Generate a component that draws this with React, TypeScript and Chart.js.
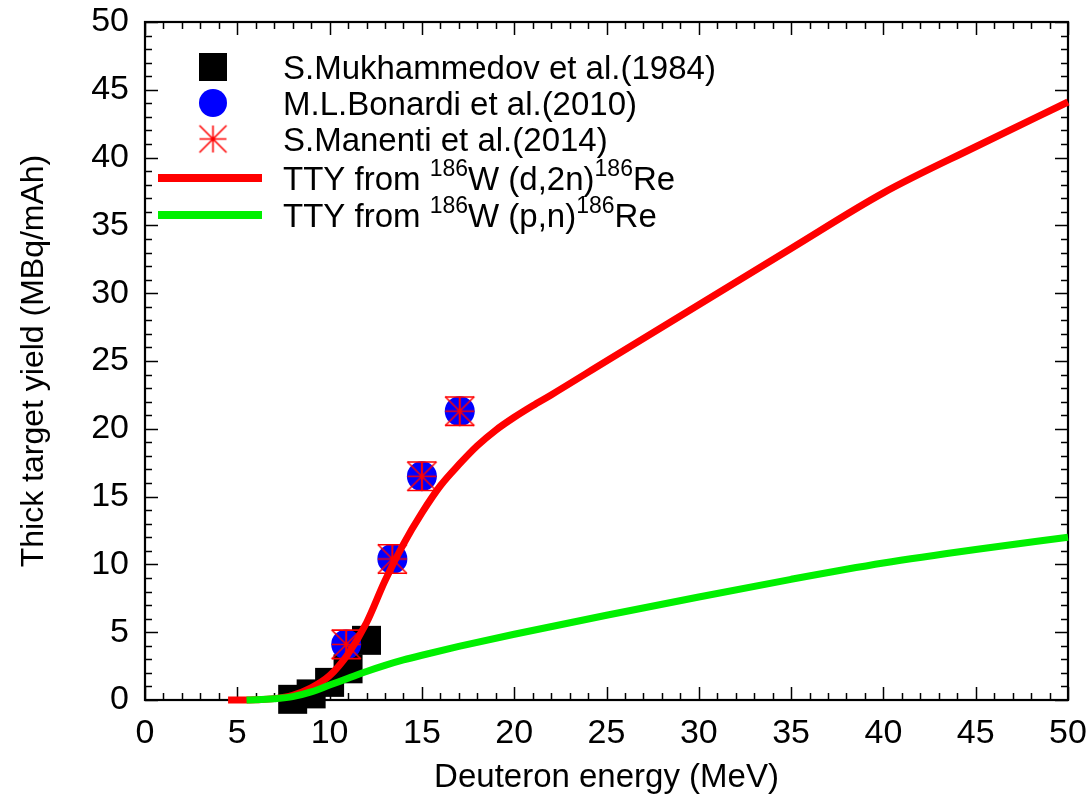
import { useEffect, useRef } from 'react';
import { Chart, registerables } from 'chart.js';

Chart.register(...registerables);

// ---- data ----
const mukhammedovX = [8.0, 9.0, 10.0, 11.0, 12.0];
const mukhammedovY = [0.05, 0.45, 1.3, 2.3, 4.4];

const bonardiX = [10.9, 13.4, 15.0, 17.05];
const bonardiY = [4.1, 10.4, 16.5, 21.3];

const manentiX = [10.9, 13.4, 15.0, 17.05];
const manentiY = [4.1, 10.4, 16.5, 21.3];
const manentiErr = [1.05, 1.05, 1.05, 1.05];

const ttyDX = [4.5, 5, 6, 7, 8, 9, 10, 11, 12, 13, 14, 15, 16, 17, 18, 19, 20, 21, 22, 25, 30, 35, 40, 45, 50];
const ttyDY = [0, 0, 0.02, 0.1, 0.35, 0.9, 1.8, 3.4, 5.7, 8.8, 11.5, 13.8, 15.8, 17.35, 18.75, 19.9, 20.85, 21.7, 22.5, 25.0, 29.15, 33.3, 37.4, 40.8, 44.1];

const ttyPX = [5.5, 6, 7, 8, 9, 10, 11, 12, 13, 14, 15, 17, 20, 25, 30, 35, 40, 45, 50];
const ttyPY = [0, 0.02, 0.1, 0.25, 0.6, 1.1, 1.6, 2.1, 2.55, 2.95, 3.3, 3.95, 4.85, 6.25, 7.6, 8.9, 10.1, 11.1, 12.0];

const xRange = [0, 50];
const yRange = [0, 50];
const majorStep = 5;
const minorStep = 1;

const pointLabels = ['S.Mukhammedov et al.(1984)', 'M.L.Bonardi et al.(2010)', 'S.Manenti et al.(2014)'];
const lineLabels = [
  [{ t: 'TTY from ' }, { t: '186', sup: true }, { t: 'W (d,2n)' }, { t: '186', sup: true }, { t: 'Re' }],
  [{ t: 'TTY from ' }, { t: '186', sup: true }, { t: 'W (p,n)' }, { t: '186', sup: true }, { t: 'Re' }],
];

const xTitle = 'Deuteron energy (MeV)';
const yTitle = 'Thick target yield (MBq/mAh)';

const FONT = '"Liberation Sans", Arial, Helvetica, sans-serif';
const RED = '#ff0000';
const GREEN = '#00f000';
const BLUE = '#0000ff';

const zip = (xs: number[], ys: number[]) => xs.map((x, i) => ({ x, y: ys[i] }));

function makeAsterisk(h: number) {
  const c = document.createElement('canvas');
  const s = Math.ceil(h * 2 + 4);
  c.width = s;
  c.height = s;
  const g = c.getContext('2d')!;
  const m = s / 2;
  g.strokeStyle = RED;
  g.lineWidth = 1.6;
  g.beginPath();
  g.moveTo(m - h, m); g.lineTo(m + h, m);
  g.moveTo(m, m - h); g.lineTo(m, m + h);
  g.moveTo(m - h, m - h); g.lineTo(m + h, m + h);
  g.moveTo(m - h, m + h); g.lineTo(m + h, m - h);
  g.stroke();
  return c;
}

export default function App() {
  const ref = useRef<HTMLCanvasElement | null>(null);

  useEffect(() => {
    if (!ref.current) return;
    const asterisk = makeAsterisk(14.5);
    const legendAsterisk = makeAsterisk(13.5);

    const framePlugin = {
      id: 'frame',
      beforeDatasetsDraw(chart: any) {
        const { ctx, chartArea } = chart;
        const { left, right, top, bottom } = chartArea;
        const xs = chart.scales.x;
        const ys = chart.scales.y;
        ctx.save();
        ctx.strokeStyle = '#000';
        ctx.lineWidth = 1.5;
        ctx.beginPath();
        for (let v = xRange[0]; v <= xRange[1] + 1e-9; v += minorStep) {
          const px = Math.round(xs.getPixelForValue(v)) + 0.5;
          const len = Math.abs(v % majorStep) < 1e-9 ? 13 : 7;
          ctx.moveTo(px, bottom); ctx.lineTo(px, bottom - len);
          ctx.moveTo(px, top); ctx.lineTo(px, top + len);
        }
        for (let v = yRange[0]; v <= yRange[1] + 1e-9; v += minorStep) {
          const py = Math.round(ys.getPixelForValue(v)) + 0.5;
          const len = Math.abs(v % majorStep) < 1e-9 ? 13 : 7;
          ctx.moveTo(left, py); ctx.lineTo(left + len, py);
          ctx.moveTo(right, py); ctx.lineTo(right - len, py);
        }
        ctx.stroke();
        ctx.lineWidth = 2.2;
        ctx.strokeRect(left, top, right - left, bottom - top);
        ctx.restore();
      },
    };

    const errorPlugin = {
      id: 'errbars',
      afterDatasetDraw(chart: any, args: any) {
        if (args.index !== 2) return;
        const { ctx } = chart;
        const xs = chart.scales.x;
        const ys = chart.scales.y;
        ctx.save();
        ctx.strokeStyle = RED;
        ctx.lineWidth = 1.6;
        ctx.beginPath();
        manentiX.forEach((x, i) => {
          const px = xs.getPixelForValue(x);
          const y1 = ys.getPixelForValue(manentiY[i] - manentiErr[i]);
          const y2 = ys.getPixelForValue(manentiY[i] + manentiErr[i]);
          ctx.moveTo(px, y1); ctx.lineTo(px, y2);
          ctx.moveTo(px - 14.5, y1); ctx.lineTo(px + 14.5, y1);
          ctx.moveTo(px - 14.5, y2); ctx.lineTo(px + 14.5, y2);
        });
        ctx.stroke();
        ctx.restore();
      },
    };

    const legendPlugin = {
      id: 'gnuLegend',
      afterDraw(chart: any) {
        const { ctx } = chart;
        const symX = 213;
        const textX = 283;
        const rows = [67, 103, 139, 178, 215];
        const mainFont = `33px ${FONT}`;
        const supFont = `23px ${FONT}`;
        ctx.save();
        // square
        ctx.fillStyle = '#000';
        ctx.fillRect(symX - 14, rows[0] - 14, 28, 28);
        // circle
        ctx.fillStyle = BLUE;
        ctx.beginPath();
        ctx.arc(symX, rows[1], 14, 0, Math.PI * 2);
        ctx.fill();
        // asterisk
        ctx.drawImage(legendAsterisk, symX - legendAsterisk.width / 2, rows[2] - legendAsterisk.height / 2);
        // lines
        ctx.lineWidth = 8;
        ctx.strokeStyle = RED;
        ctx.beginPath(); ctx.moveTo(158, rows[3]); ctx.lineTo(262, rows[3]); ctx.stroke();
        ctx.strokeStyle = GREEN;
        ctx.beginPath(); ctx.moveTo(158, rows[4]); ctx.lineTo(262, rows[4]); ctx.stroke();
        // texts
        ctx.fillStyle = '#000';
        ctx.textBaseline = 'alphabetic';
        ctx.textAlign = 'left';
        ctx.font = mainFont;
        pointLabels.forEach((t, i) => ctx.fillText(t, textX, rows[i] + 12));
        lineLabels.forEach((parts, i) => {
          let x = textX;
          const base = rows[3 + i] + 12;
          parts.forEach((p: any) => {
            ctx.font = p.sup ? supFont : mainFont;
            ctx.fillText(p.t, x, p.sup ? base - 14 : base);
            x += ctx.measureText(p.t).width;
          });
        });
        ctx.restore();
      },
    };

    const tickFont = { family: FONT, size: 34 };

    const chart = new Chart(ref.current, {
      type: 'scatter',
      data: {
        datasets: [
          {
            label: pointLabels[0],
            data: zip(mukhammedovX, mukhammedovY),
            pointStyle: 'rect',
            pointRadius: 20.5,
            pointHoverRadius: 20.5,
            backgroundColor: '#000',
            borderColor: '#000',
            borderWidth: 0,
            order: 5,
            clip: false,
          },
          {
            label: pointLabels[1],
            data: zip(bonardiX, bonardiY),
            pointStyle: 'circle',
            pointRadius: 15,
            pointHoverRadius: 15,
            backgroundColor: BLUE,
            borderColor: BLUE,
            borderWidth: 0,
            order: 4,
            clip: false,
          },
          {
            label: pointLabels[2],
            data: zip(manentiX, manentiY),
            pointStyle: asterisk as any,
            pointRadius: 15,
            pointHoverRadius: 15,
            backgroundColor: RED,
            borderColor: RED,
            order: 3,
            clip: false,
          },
          {
            label: 'TTY d,2n',
            data: zip(ttyDX, ttyDY),
            showLine: true,
            pointRadius: 0,
            borderColor: RED,
            backgroundColor: RED,
            borderWidth: 7,
            cubicInterpolationMode: 'monotone',
            order: 2,
            clip: false,
          },
          {
            label: 'TTY p,n',
            data: zip(ttyPX, ttyPY),
            showLine: true,
            pointRadius: 0,
            borderColor: GREEN,
            backgroundColor: GREEN,
            borderWidth: 7,
            cubicInterpolationMode: 'monotone',
            order: 1,
            clip: false,
          },
        ] as any,
      },
      options: {
        animation: false,
        responsive: false,
        events: [],
        layout: { padding: { top: 22, right: 23, left: 0, bottom: 0 } },
        plugins: {
          legend: { display: false },
          tooltip: { enabled: false },
        },
        scales: {
          x: {
            type: 'linear',
            min: xRange[0],
            max: xRange[1],
            grid: { display: false, drawTicks: false },
            border: { display: false },
            ticks: {
              stepSize: majorStep,
              font: tickFont,
              color: '#000',
              padding: 13,
              maxRotation: 0,
              autoSkip: false,
            },
            title: {
              display: true,
              text: xTitle,
              font: { family: FONT, size: 33 },
              color: '#000',
              padding: { top: 0, bottom: 2 },
            },
            afterFit(scale: any) {
              scale.height = 100;
              scale.paddingLeft = 0;
              scale.paddingRight = 0;
            },
          },
          y: {
            type: 'linear',
            min: yRange[0],
            max: yRange[1],
            grid: { display: false, drawTicks: false },
            border: { display: false },
            ticks: {
              stepSize: majorStep,
              font: tickFont,
              color: '#000',
              padding: 16,
              autoSkip: false,
            },
            title: {
              display: true,
              text: yTitle,
              font: { family: FONT, size: 32 },
              color: '#000',
              padding: { top: 15, bottom: 0 },
            },
            afterFit(scale: any) {
              scale.width = 145;
              scale.paddingTop = 0;
              scale.paddingBottom = 0;
            },
          },
        },
      },
      plugins: [framePlugin, errorPlugin, legendPlugin],
    });

    return () => chart.destroy();
  }, []);

  return (
    <div style={{ position: 'absolute', left: 0, top: 0, width: 1091, height: 800, background: '#fff' }}>
      <canvas ref={ref} width={1091} height={800} style={{ width: 1091, height: 800, display: 'block' }} />
    </div>
  );
}
